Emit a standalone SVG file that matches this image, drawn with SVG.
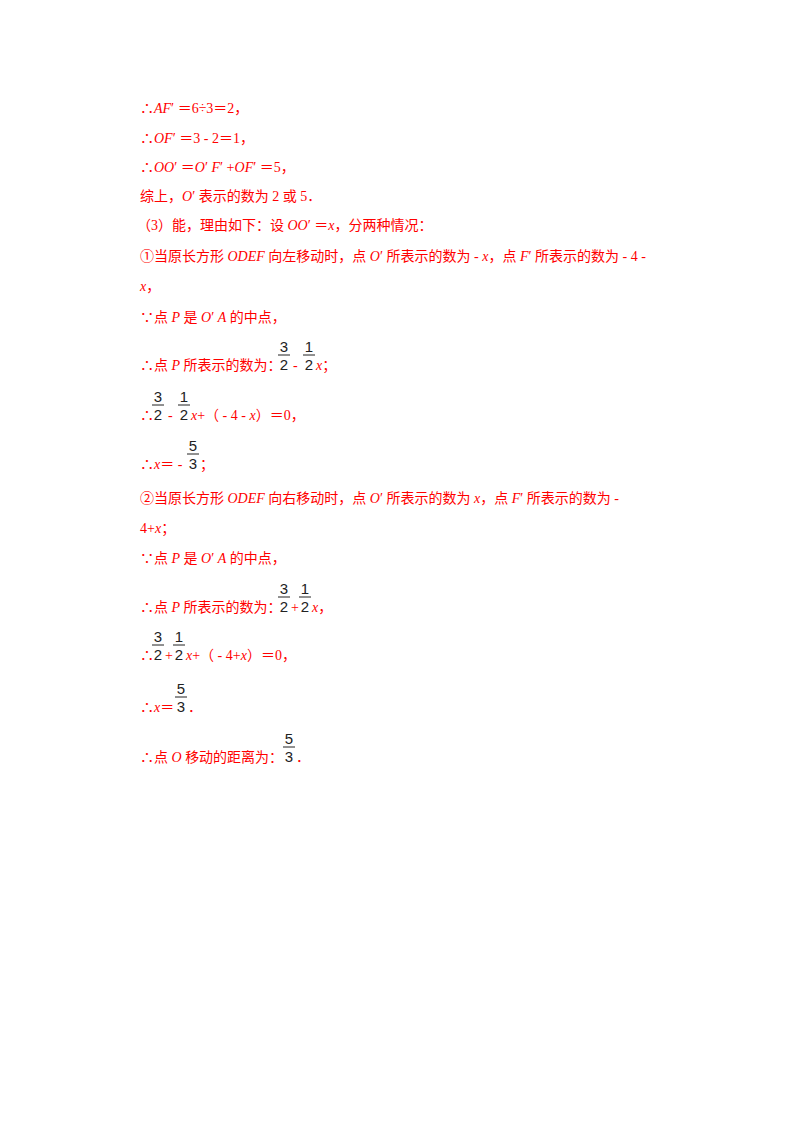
<svg xmlns="http://www.w3.org/2000/svg" width="800" height="1132" viewBox="0 0 800 1132">
<style>
.t{font-family:"Liberation Serif","Noto Sans CJK SC",serif;font-size:14px;fill:#ff0000}
.i{font-style:italic}
.f{font-family:"Liberation Sans",Arial,sans-serif;font-size:15px;fill:#222;text-anchor:middle}
.b{stroke:#222;stroke-width:1}
</style>
<rect width="800" height="1132" fill="#fff"/>
<g id="text">
<text class="t" x="140" y="113">∴<tspan class="i">AF</tspan>′ ＝6÷3＝2，</text>
<text class="t" x="140" y="143">∴<tspan class="i">OF</tspan>′ ＝3 - 2＝1，</text>
<text class="t" x="140" y="172">∴<tspan class="i">OO</tspan>′ ＝<tspan class="i">O</tspan>′ <tspan class="i">F</tspan>′ +<tspan class="i">OF</tspan>′ ＝5，</text>
<text class="t" x="140" y="201">综上，<tspan class="i">O</tspan>′ 表示的数为 2 或 5．</text>
<text class="t" x="137" y="230">（3）能，理由如下：设 <tspan class="i">OO</tspan>′ ＝<tspan class="i">x</tspan>，分两种情况：</text>
<text class="t" x="140" y="261">①当原长方形 <tspan class="i">ODEF</tspan> 向左移动时，点 <tspan class="i">O</tspan>′ 所表示的数为 - <tspan class="i">x</tspan>，点 <tspan class="i">F</tspan>′ 所表示的数为 - 4 -</text>
<text class="t i" x="140" y="291">x<tspan style="font-style:normal">，</tspan></text>
<text class="t" x="140" y="322">∵点 <tspan class="i">P</tspan> 是 <tspan class="i">O</tspan>′ <tspan class="i">A</tspan> 的中点，</text>
<text class="t" x="140" y="370">∴点 <tspan class="i">P</tspan> 所表示的数为：</text>
<text class="f" x="284" y="352">3</text><line class="b" x1="278" y1="355" x2="290" y2="355"/><text class="f" x="284" y="370">2</text>
<text class="t" x="293" y="370">-</text>
<text class="f" x="309" y="352">1</text><line class="b" x1="303" y1="355" x2="315" y2="355"/><text class="f" x="309" y="370">2</text>
<text class="t" x="316" y="370"><tspan class="i">x</tspan>；</text>
<text class="t" x="140" y="420">∴</text>
<text class="f" x="158" y="402">3</text><line class="b" x1="152" y1="405" x2="164" y2="405"/><text class="f" x="158" y="420">2</text>
<text class="t" x="168" y="420">-</text>
<text class="f" x="184" y="402">1</text><line class="b" x1="178" y1="405" x2="190" y2="405"/><text class="f" x="184" y="420">2</text>
<text class="t" x="191" y="420"><tspan class="i">x</tspan>+（ - 4 - <tspan class="i">x</tspan>）＝0，</text>
<text class="t" x="140" y="469">∴<tspan class="i">x</tspan>＝ -</text>
<text class="f" x="193" y="451">5</text><line class="b" x1="187" y1="454" x2="199" y2="454"/><text class="f" x="193" y="469">3</text>
<text class="t" x="200" y="469">；</text>
<text class="t" x="140" y="503">②当原长方形 <tspan class="i">ODEF</tspan> 向右移动时，点 <tspan class="i">O</tspan>′ 所表示的数为 <tspan class="i">x</tspan>，点 <tspan class="i">F</tspan>′ 所表示的数为 -</text>
<text class="t" x="140" y="533">4+<tspan class="i">x</tspan>；</text>
<text class="t" x="140" y="563">∵点 <tspan class="i">P</tspan> 是 <tspan class="i">O</tspan>′ <tspan class="i">A</tspan> 的中点，</text>
<text class="t" x="140" y="612">∴点 <tspan class="i">P</tspan> 所表示的数为：</text>
<text class="f" x="284" y="594">3</text><line class="b" x1="278" y1="597" x2="290" y2="597"/><text class="f" x="284" y="612">2</text>
<text class="t" x="291" y="612">+</text>
<text class="f" x="305" y="594">1</text><line class="b" x1="299" y1="597" x2="311" y2="597"/><text class="f" x="305" y="612">2</text>
<text class="t" x="312" y="612"><tspan class="i">x</tspan>，</text>
<text class="t" x="140" y="660">∴</text>
<text class="f" x="158" y="642">3</text><line class="b" x1="152" y1="645" x2="164" y2="645"/><text class="f" x="158" y="660">2</text>
<text class="t" x="165" y="660">+</text>
<text class="f" x="179" y="642">1</text><line class="b" x1="173" y1="645" x2="185" y2="645"/><text class="f" x="179" y="660">2</text>
<text class="t" x="186" y="660"><tspan class="i">x</tspan>+（ - 4+<tspan class="i">x</tspan>）＝0，</text>
<text class="t" x="140" y="712">∴<tspan class="i">x</tspan>＝</text>
<text class="f" x="181" y="694">5</text><line class="b" x1="175" y1="697" x2="187" y2="697"/><text class="f" x="181" y="712">3</text>
<text class="t" x="188" y="712">．</text>
<text class="t" x="140" y="762">∴点 <tspan class="i">O</tspan> 移动的距离为：</text>
<text class="f" x="289" y="744">5</text><line class="b" x1="283" y1="747" x2="295" y2="747"/><text class="f" x="289" y="762">3</text>
<text class="t" x="296" y="762">．</text>
</g>
</svg>
